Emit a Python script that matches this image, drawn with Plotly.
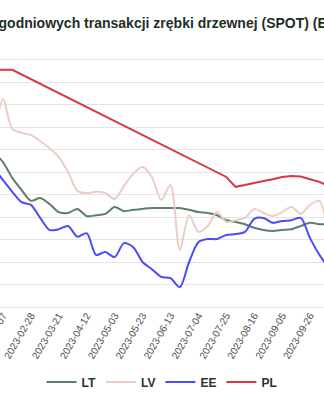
import plotly.graph_objects as go

dates = [
    "2023-01-31", "2023-02-07", "2023-02-14", "2023-02-21", "2023-02-28",
    "2023-03-07", "2023-03-14", "2023-03-21", "2023-03-28", "2023-04-04",
    "2023-04-12", "2023-04-18", "2023-04-25", "2023-05-03", "2023-05-09",
    "2023-05-16", "2023-05-23", "2023-05-30", "2023-06-06", "2023-06-13",
    "2023-06-20", "2023-06-27", "2023-07-04", "2023-07-11", "2023-07-18",
    "2023-07-25", "2023-08-01", "2023-08-08", "2023-08-16", "2023-08-22",
    "2023-08-29", "2023-09-05", "2023-09-12", "2023-09-19", "2023-09-26",
    "2023-10-03", "2023-10-10",
]

tick_labels = dates[1::3]

lt = [34.4, 32.2, 28.7, 26.0, 23.6, 24.2, 22.9, 21.1, 20.9, 21.8,
      20.2, 20.4, 20.7, 22.2, 21.3, 21.6, 21.8, 22.0, 22.0, 22.0,
      22.0, 21.6, 21.1, 20.9, 20.4, 19.3, 18.9, 18.4, 17.6, 17.1,
      16.9, 17.1, 17.3, 18.0, 18.7, 18.4, 18.4]

lv = [36.0, 46.2, 39.6, 38.7, 38.2, 36.9, 35.3, 33.3, 30.0, 25.8,
      25.3, 25.6, 25.3, 24.0, 26.9, 29.6, 31.1, 28.9, 23.8, 27.1,
      12.7, 20.4, 16.7, 18.0, 21.1, 18.9, 19.3, 19.8, 21.8, 20.9,
      20.2, 21.1, 22.2, 20.7, 22.7, 23.6, 14.9]

ee = [30.9, 28.2, 25.6, 23.3, 22.7, 19.8, 17.1, 17.3, 18.0, 15.6,
      16.4, 11.6, 12.2, 11.1, 14.2, 13.3, 10.0, 8.4, 6.7, 6.4,
      4.4, 10.0, 14.4, 15.1, 15.1, 16.0, 16.2, 16.7, 19.6, 19.8,
      18.7, 19.1, 19.3, 19.8, 15.3, 11.6, 8.7]

pl = [52.7, 52.7, 52.7, None, None, None, None, None, None, None,
      None, None, None, None, None, None, None, None, None, None,
      None, None, None, None, None, 28.9, 26.7, 27.1, 27.6, 28.0,
      28.4, 28.9, 29.1, 29.0, 28.4, 27.8, 26.9]

series = [
    ("LT", lt, "#5f7f69", "spline"),
    ("LV", lv, "#eccdc5", "spline"),
    ("EE", ee, "#4b4bfa", "spline"),
    ("PL", pl, "#d6364a", "linear"),
]

FONT = "Liberation Sans, Arial, sans-serif"

fig = go.Figure()
for name, vals, color, shape in series:
    fig.add_trace(go.Scatter(
        x=dates, y=vals, name=name, mode="lines",
        line=dict(color=color, width=2, shape=shape, smoothing=0.8),
        connectgaps=True,
    ))

fig.update_layout(
    template="none",
    width=324, height=400,
    margin=dict(l=0, r=0, t=37, b=93),
    paper_bgcolor="white", plot_bgcolor="white",
    title=dict(
        text="Ceny tygodniowych transakcji zrębki drzewnej (SPOT) (EUR/MWh)",
        x=0.52, xanchor="center", xref="container",
        y=1 - 23 / 400, yanchor="middle", yref="container",
        font=dict(family=FONT, size=14, color="#1f2e27", weight="bold"),
    ),
    showlegend=True,
    legend=dict(
        orientation="h", x=0.5, xanchor="center", y=-0.278, yanchor="middle",
        font=dict(family=FONT, size=12, color="#2a352f", weight="bold"),
        bgcolor="rgba(0,0,0,0)",
    ),
    xaxis=dict(
        type="category", range=[0.68, 35.5], automargin=False,
        tickmode="array", tickvals=tick_labels, ticktext=tick_labels,
        tickangle=-60, showgrid=False, showline=False, zeroline=False,
        ticks="", tickfont=dict(family=FONT, size=10, color="#4a4a4a"),
    ),
    yaxis=dict(
        range=[0, 60], dtick=5, automargin=False, showticklabels=False,
        showgrid=True, gridcolor="#e4e4e4", gridwidth=1,
        zeroline=True, zerolinecolor="#e4e4e4", zerolinewidth=1,
        showline=False, ticks="",
    ),
)

fig.write_html("out.html")
